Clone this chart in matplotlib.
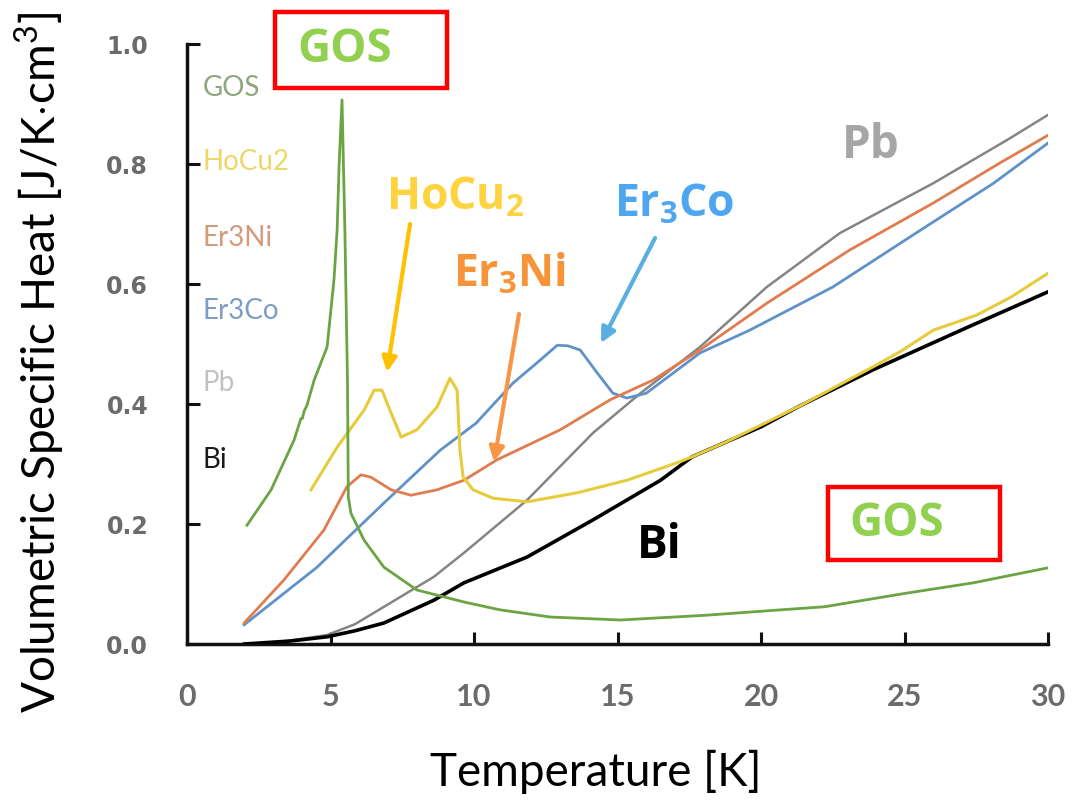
import matplotlib
matplotlib.use("Agg")
import matplotlib.pyplot as plt
from matplotlib.patches import Rectangle

# ---------------- data ----------------
gos_T = [2.09, 2.93, 3.73, 3.97, 4.02, 4.08, 4.18, 4.43, 4.88, 5.12, 5.23, 5.30, 5.40,
         5.50, 5.56, 5.59, 5.62, 5.71, 6.17, 6.86, 8.01, 9.65, 10.9, 12.65, 15.1,
         18.1, 20.7, 22.2, 25.1, 27.4, 30.0]
gos_C = [0.198, 0.257, 0.340, 0.376, 0.376, 0.388, 0.398, 0.440, 0.495, 0.607, 0.690, 0.800, 0.907,
         0.690, 0.523, 0.440, 0.245, 0.218, 0.173, 0.128, 0.090, 0.070, 0.057, 0.045, 0.040,
         0.048, 0.057, 0.062, 0.085, 0.102, 0.127]

hocu2_T = [4.32, 5.23, 6.17, 6.52, 6.79, 7.11, 7.46, 8.01, 8.71, 9.16, 9.41, 9.51, 9.62,
           9.97, 10.66, 11.85, 13.59, 15.33, 17.07, 17.6, 18.8, 20.0, 21.36, 23.9, 24.84,
           26.0, 27.5, 28.7, 30.0]
hocu2_C = [0.257, 0.328, 0.390, 0.423, 0.423, 0.385, 0.345, 0.357, 0.395, 0.443, 0.423, 0.323, 0.278,
           0.257, 0.243, 0.237, 0.252, 0.273, 0.302, 0.312, 0.337, 0.365, 0.397, 0.462, 0.487,
           0.523, 0.548, 0.578, 0.618]

er3ni_T = [1.99, 3.38, 4.77, 5.57, 6.06, 6.41, 7.11, 7.80, 8.71, 9.65, 10.8, 13.0, 14.74,
           16.24, 17.87, 20.2, 23.1, 26.0, 28.33, 30.0]
er3ni_C = [0.035, 0.107, 0.190, 0.262, 0.282, 0.278, 0.257, 0.248, 0.257, 0.273, 0.307, 0.357, 0.407,
           0.440, 0.490, 0.568, 0.657, 0.735, 0.802, 0.848]

er3co_T = [1.99, 4.53, 6.86, 8.82, 10.07, 11.36, 12.3, 12.9, 13.27, 13.7, 14.29, 14.84, 15.33,
           16.0, 17.87, 19.6, 22.5, 25.4, 28.1, 30.0]
er3co_C = [0.032, 0.128, 0.235, 0.323, 0.368, 0.435, 0.473, 0.498, 0.497, 0.490, 0.452, 0.418, 0.410,
           0.418, 0.485, 0.523, 0.595, 0.685, 0.768, 0.835]

pb_T = [2.5, 3.2, 4.88, 5.85, 6.86, 8.6, 9.65, 11.85, 14.15, 15.8, 17.87, 20.2, 22.75, 26.0, 28.57, 30.0]
pb_C = [0.000, 0.003, 0.015, 0.033, 0.062, 0.112, 0.152, 0.240, 0.352, 0.418, 0.495, 0.595, 0.685,
        0.768, 0.840, 0.882]

bi_T = [2.0, 3.6, 4.88, 5.85, 6.86, 8.6, 9.65, 11.85, 14.15, 16.5, 17.6, 20.0, 21.36, 23.9, 27.2, 30.0]
bi_C = [0.000, 0.005, 0.012, 0.022, 0.035, 0.073, 0.102, 0.145, 0.207, 0.273, 0.312, 0.362, 0.397,
        0.457, 0.528, 0.587]

legend_names = ["GOS", "HoCu2", "Er3Ni", "Er3Co", "Pb", "Bi"]
legend_y = [0.927, 0.803, 0.677, 0.555, 0.435, 0.307]

x_ticks = [0, 5, 10, 15, 20, 25, 30]
y_ticks = [0.0, 0.2, 0.4, 0.6, 0.8, 1.0]
y_tick_labels = ["0.0", "0.2", "0.4", "0.6", "0.8", "1.0"]

# ---------------- styling ----------------
LABEL_FONT = "Lato"
plt.rcParams['mathtext.fontset'] = 'custom'
plt.rcParams['mathtext.rm'] = 'Lato'
plt.rcParams['mathtext.bf'] = 'Open Sans:bold'

fig = plt.figure(figsize=(10.78, 8.01), dpi=100)
ax = fig.add_axes([0.1735, 0.196, 0.7987, 0.749])

line_colors = {"GOS": "#6aa443", "HoCu2": "#e6cc3c", "Er3Ni": "#e07c4e",
               "Er3Co": "#5f92c8", "Pb": "#858585", "Bi": "#000000"}
ax.plot(pb_T, pb_C, color=line_colors["Pb"], lw=1.8, zorder=2)
ax.plot(er3co_T, er3co_C, color=line_colors["Er3Co"], lw=2.0, zorder=3)
ax.plot(er3ni_T, er3ni_C, color=line_colors["Er3Ni"], lw=2.0, zorder=3)
ax.plot(bi_T, bi_C, color=line_colors["Bi"], lw=2.6, zorder=3)
ax.plot(hocu2_T, hocu2_C, color=line_colors["HoCu2"], lw=2.2, zorder=4)
ax.plot(gos_T, gos_C, color=line_colors["GOS"], lw=2.0, zorder=4)

ax.set_xlim(0, 30)
ax.set_ylim(0, 1.0)
for s in ["top", "right"]:
    ax.spines[s].set_visible(False)
for s in ["left", "bottom"]:
    ax.spines[s].set_linewidth(2.5)
    ax.spines[s].set_color("#111111")

ax.set_xticks(x_ticks)
ax.set_yticks(y_ticks)
ax.set_yticklabels(y_tick_labels)
ax.tick_params(axis='both', direction='in', length=9, width=2.2, color="#111111")
ax.tick_params(axis='y', pad=28)
ax.tick_params(axis='x', pad=28)
for lab in ax.get_yticklabels():
    lab.set_fontfamily("DejaVu Sans")
    lab.set_fontweight("bold")
    lab.set_fontsize(17)
    lab.set_color("#6b6b6b")
for lab in ax.get_xticklabels():
    lab.set_fontfamily(LABEL_FONT)
    lab.set_fontweight("bold")
    lab.set_fontsize(22)
    lab.set_color("#6b6b6b")

# axis titles
fig.text(596 / 1078, 1 - 772 / 801, "Temperature [K]", fontsize=33, family=LABEL_FONT,
         ha="center", va="center", color="#000000")
fig.text(40 / 1078, 1 - 362 / 801, r"Volumetric Specific Heat [J/K$\cdot$cm$^3$]", fontsize=33,
         family=LABEL_FONT, rotation=90, ha="center", va="center", color="#000000")

# faded in-plot legend labels
leg_colors = ["#8da67e", "#ecd76a", "#d49a7c", "#7e9dc4", "#c2c2c2", "#1a1a1a"]
for name, yy, c in zip(legend_names, legend_y, leg_colors):
    ax.text(0.55, yy, name, color=c, fontsize=20, family=LABEL_FONT,
            va="center", ha="left")

# red boxes with GOS
for (bx0, by0, bx1, by1, tx, ty) in [(275, 12, 447, 88, 345, 50), (828, 487, 1000, 560, 897, 524)]:
    fig.patches.append(Rectangle((bx0 / 1078, 1 - by1 / 801), (bx1 - bx0) / 1078, (by1 - by0) / 801,
                                 transform=fig.transFigure, fill=False, edgecolor="#ff0000", lw=3.2))
    fig.text(tx / 1078, 1 - ty / 801, "GOS", color="#92d050", fontsize=33, family="Open Sans",
             fontweight="bold", ha="center", va="center")

# labels with arrows
def px2data(px, py):
    return ((px - 187) / 28.7, (644 - py) / 600)

ann = [
    (r"HoCu$_\mathbf{2}$", "#ffd33f", (455, 198), (410, 224), (387, 372), "#ffc000"),
    (r"Er$_\mathbf{3}$Ni", "#f7943a", (510, 275), (519, 314), (494, 462), "#f79646"),
    (r"Er$_\mathbf{3}$Co", "#4ea6f0", (674, 205), (655, 238), (601, 343), "#5aaee0"),
]
for txt, col, tpos, a0, a1, acol in ann:
    ax.text(*px2data(*tpos), txt, color=col, fontsize=32, family="Open Sans", fontweight="bold",
            ha="center", va="center")
    ax.annotate("", xy=px2data(*a1), xytext=px2data(*a0),
                arrowprops=dict(arrowstyle="-|>", color=acol, lw=3, mutation_scale=22,
                                shrinkA=0, shrinkB=0))

ax.text(*px2data(871, 145), "Pb", color="#a6a6a6", fontsize=33, family="Open Sans",
        fontweight="bold", ha="center", va="center")
ax.text(*px2data(659, 545), "Bi", color="#000000", fontsize=33, family="Open Sans",
        fontweight="bold", ha="center", va="center")

fig.savefig("out.png", dpi=100)
